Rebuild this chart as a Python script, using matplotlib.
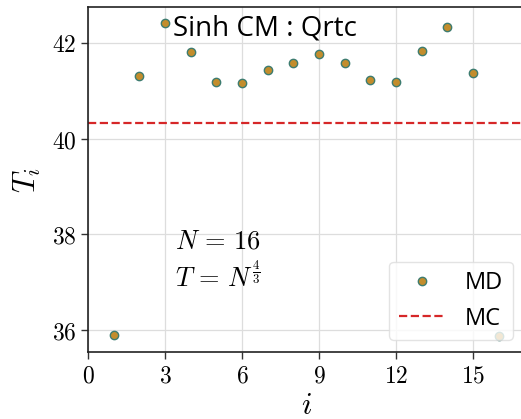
import matplotlib
matplotlib.use("Agg")
import matplotlib.pyplot as plt
from matplotlib.ticker import FuncFormatter

plt.rcParams['mathtext.fontset'] = 'cm'

i_vals = [1, 2, 3, 4, 5, 6, 7, 8, 9, 10, 11, 12, 13, 14, 15, 16]
T_md = [35.90, 41.31, 42.41, 41.81, 41.18, 41.16, 41.44, 41.59, 41.76, 41.57,
        41.23, 41.18, 41.83, 42.34, 41.37, 35.87]
T_mc = 40.32
x_ticks = [0, 3, 6, 9, 12, 15]
y_ticks = [36, 38, 40, 42]

fig = plt.figure(figsize=(5.21, 4.19), dpi=100)
ax = fig.add_axes([88/521, 1 - 352/419, (17*25.67)/521, (352-7)/419])

ax.plot(i_vals, T_md, 'o', ls='none', ms=6, mfc='#c38d2c', mec='#3d7c70', mew=1.0,
        label='MD', zorder=3)
ax.axhline(T_mc, color='#d62728', ls='--', lw=1.6, label='MC', zorder=2)

ax.set_xlim(0, 17)
ax.set_ylim(35.54, 42.75)
ax.set_xticks(x_ticks)
ax.set_yticks(y_ticks)
ax.xaxis.set_major_formatter(FuncFormatter(lambda v, p: r'$%d$' % v))
ax.yaxis.set_major_formatter(FuncFormatter(lambda v, p: r'$%d$' % v))
ax.tick_params(labelsize=17, direction='out', length=5, width=1, color='#333333')
ax.grid(True, color='#dddddd', lw=0.9)
ax.set_axisbelow(True)
ax.spines['right'].set_visible(False)
for s in ['left', 'bottom', 'top']:
    ax.spines[s].set_color('#222222')
    ax.spines[s].set_linewidth(1.2)

ax.set_xlabel(r'$i$', fontsize=22, labelpad=2)
ax.set_ylabel(r'$T_i$', fontsize=22, labelpad=6)

ax.text(3.3, 42.3, 'Sinh CM : Qrtc', fontsize=20, family='Open Sans', va='center')
ax.text(3.4, 37.85, r'$N\,=\,16$', fontsize=19, va='center')
ax.text(3.4, 37.1, r'$T\,=\,N^{\frac{4}{3}}$', fontsize=19, va='center')

leg = ax.legend(loc='lower right', prop={'family': 'Open Sans', 'size': 17},
                handlelength=2.0, borderaxespad=0.5, framealpha=0.8,
                edgecolor='#dddddd', fancybox=True)

fig.savefig('out.png', dpi=100)
